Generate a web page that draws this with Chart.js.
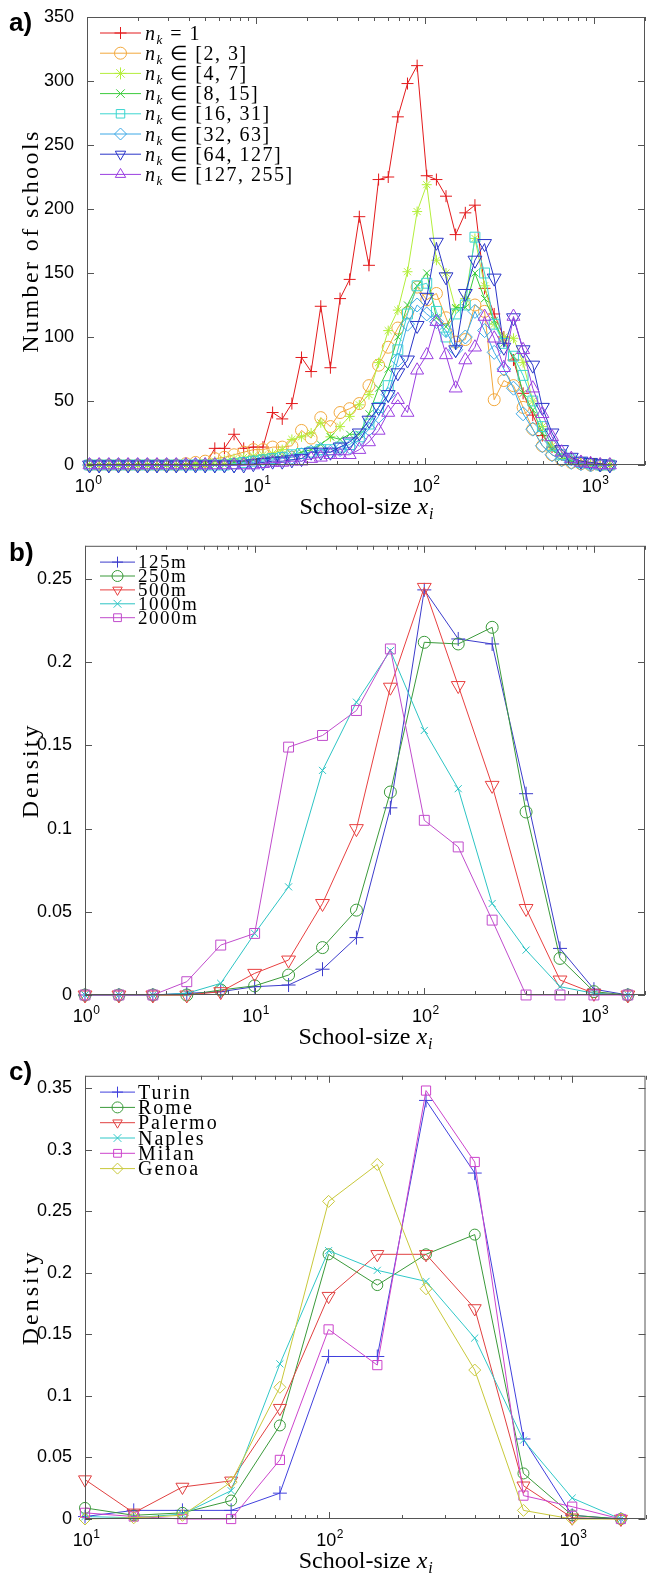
<!DOCTYPE html>
<html>
<head>
<meta charset="utf-8">
<script src="https://cdn.jsdelivr.net/npm/chart.js@4.4.0/dist/chart.umd.min.js"></script>
<style>
  body { margin: 0; background: #fff; width: 654px; height: 1574px; position: relative; overflow: hidden; }
  canvas { position: absolute; left: 0; }
  .tag { position: absolute; left: 9px; font: bold 26px "Liberation Sans", Arial, sans-serif; line-height: 26px; z-index: 2; }
</style>
</head>
<body>
<canvas id="chartA" width="654" height="530" style="top:0"></canvas>
<canvas id="chartB" width="654" height="530" style="top:530px"></canvas>
<canvas id="chartC" width="654" height="514" style="top:1060px"></canvas>
<div class="tag" style="top:9px">a)</div>
<div class="tag" style="top:539px">b)</div>
<div class="tag" style="top:1058px">c)</div>
<script>
// ---- panel a: number of schools vs school size, by n_k
const xA = [1.035, 1.180, 1.346, 1.535, 1.750, 1.995, 2.275, 2.594, 2.958, 3.373, 3.846, 4.385, 5.000, 5.702,
  6.501, 7.413, 8.453, 9.638, 10.99, 12.53, 14.29, 16.29, 18.58, 21.18, 24.15, 27.54, 31.41, 35.81, 40.83,
  46.56, 53.09, 60.53, 69.02, 78.70, 89.74, 102.3, 116.7, 133.0, 151.7, 173.0, 197.2, 224.9, 256.4, 292.4,
  333.4, 380.2, 433.5, 494.3, 563.6, 642.7, 732.8, 835.6, 952.8, 1086, 1239];
const nk1 = [0,0,0,0,0,0,0,0,0,0,0,0,0,
  13,13,24,13,14,14,41,36,48,84,73,124,76,130,145,194,156,223,225,272,298,312,226,223,210,180,197,203,
  138,118,100,82,56,39,23,14,8,5,3,2,1,0];
const nk2_3 = [0,0,0,0,0,0,0,0,0,0,
  1,2,3,5,6,8,10,12,12,14, 14,15,27,21,37,30,41,44,48,62, 78,92,107,119,139,129,134,115,96,98,
  125,120,51,66,62,45,28,15,8,4, 2,1,0,0,0];
const nk4_7 = [0,0,0,0,0,0,0,0,0,0,0,
  1,2,3,4,5,6,7,8,9, 12,20,22,25,33,22,30,38,47,55, 80,105,121,151,198,219,160,150,122,130,
  177,140,110,100,99,80,50,30,15,8, 4,2,1,0,0];
const nk8_15 = [0,0,0,0,0,0,0,0,0,0,0,0,0,0,0,
  2,3,4,5,6, 7,8,10,12,16,22,20,24,24,40, 60,75,100,125,140,150,115,108,123,123,
  150,130,113,95,85,56,43,25,12,6, 3,1,0,0,0];
const nk16_31 = [0,0,0,0,0,0,0,0,0,0,0,0,0,0,0,
  1,2,3,4,5, 6,8,9,10,12,12,14,16,22,32, 45,62,90,118,140,142,120,100,118,125,
  178,150,110,95,85,70,50,30,15,8, 4,2,1,0,0];
const nk32_63 = [0,0,0,0,0,0,0,0,0,0,0,0,0,0,0,0,
  1,2,3,4, 5,6,8,10,12,10,12,14,20,28, 38,55,82,110,125,118,112,105,90,100,
  120,105,88,75,60,40,28,15,8,4, 2,1,0,0,0];
const nk64_127 = [0,0,0,0,0,0,0,0,0,0,0,0,0,0,0,0,0,
  1,2,3, 3,4,5,10,10,10,14,18,25,35, 45,55,72,82,109,131,174,147,90,134,
  160,173,146,92,115,90,78,45,25,12, 6,3,2,1,0];
const nk127_255 = [0,0,0,0,0,0,0,0,0,0,0,0,0,0,0,0,0,0,
  1,2, 2,3,3,5,6,8,8,8,12,18, 27,41,51,41,74,86,112,86,60,82,
  92,116,99,76,116,90,60,40,22,10, 5,2,1,0,0];

// ---- panel b: density by radius
const xB = [1, 1.585, 2.512, 3.981, 6.310, 10, 15.85, 25.12, 39.81, 63.10, 100, 158.5, 251.2, 398.1, 631.0, 1000, 1585];
const r125 = [0,0,0,0.001,0.002,0.005,0.006,0.0155,0.0345,0.1125,0.2435,0.214,0.211,0.121,0.028,0.0035,0];
const r250 = [0,0,0,0,0.003,0.0055,0.012,0.0285,0.051,0.122,0.212,0.211,0.221,0.11,0.022,0.002,0];
const r500 = [0,0,0,0,0.002,0.013,0.021,0.055,0.1,0.185,0.245,0.186,0.126,0.052,0.009,0.001,0];
const r1000 = [0,0,0,0.001,0.007,0.037,0.065,0.135,0.176,0.207,0.159,0.124,0.055,0.027,0.005,0.001,0];
const r2000 = [0,0,0,0.008,0.030,0.037,0.149,0.156,0.171,0.208,0.105,0.089,0.045,0,0,0,0];

// ---- panel c: density by city
const xC = [10, 15.85, 25.12, 39.81, 63.10, 100, 158.5, 251.2, 398.1, 631.0, 1000, 1585];
const turin = [0.002,0.007,0.007,0.007,0.021,0.132,0.132,0.34,0.281,0.065,0.003,0];
const rome = [0.009,0.003,0.005,0.015,0.076,0.215,0.19,0.215,0.231,0.037,0.003,0];
const palermo = [0.032,0.005,0.026,0.031,0.09,0.181,0.215,0.215,0.171,0.027,0.001,0];
const naples = [0.002,0.001,0.004,0.023,0.126,0.218,0.202,0.193,0.147,0.064,0.017,0];
const milan = [0.005,0.002,0,0,0.048,0.154,0.125,0.348,0.29,0.019,0.01,0];
const genoa = [0,0.001,0.003,0.03,0.107,0.258,0.288,0.187,0.121,0.007,0,0];

const xTicks = [1, 10, 100, 1000];
const yTicksA = [0, 50, 100, 150, 200, 250, 300, 350];
const yTicksB = [0, 0.05, 0.1, 0.15, 0.2, 0.25];
const yTicksC = [0, 0.05, 0.1, 0.15, 0.2, 0.25, 0.3, 0.35];

const SANS = '"Liberation Sans", Arial, sans-serif';
const SERIF = '"Liberation Serif", "Times New Roman", serif';

function series(label, xs, ys, color, style, r, rot) {
  return {
    label,
    data: ys.map((v, i) => ({ x: xs[i], y: v })),
    borderColor: color,
    backgroundColor: color,
    borderWidth: 1,
    pointStyle: style,
    pointRotation: rot || 0,
    pointRadius: r,
    pointBorderColor: color,
    pointBackgroundColor: 'rgba(0,0,0,0)',
    pointBorderWidth: 1,
    tension: 0,
    clip: false,
  };
}

// marker for the legend rows (same shapes as the chart points)
function drawMark(ctx, style, rot, r, x, y) {
  ctx.beginPath();
  if (style === 'circle') {
    ctx.arc(x, y, r, 0, Math.PI * 2);
  } else if (style === 'rect') {
    const s = r * Math.SQRT1_2;
    ctx.rect(x - s, y - s, 2 * s, 2 * s);
  } else if (style === 'rectRot') {
    ctx.moveTo(x - r, y); ctx.lineTo(x, y - r); ctx.lineTo(x + r, y); ctx.lineTo(x, y + r); ctx.closePath();
  } else if (style === 'triangle') {
    const a = (rot || 0) * Math.PI / 180;
    for (let k = 0; k < 3; k++) {
      const t = a - Math.PI / 2 + k * 2 * Math.PI / 3;
      const px = x + Math.cos(t) * r, py = y + Math.sin(t) * r;
      k ? ctx.lineTo(px, py) : ctx.moveTo(px, py);
    }
    ctx.closePath();
  } else {
    const arms = style === 'cross' ? [0] : style === 'crossRot' ? [45] : [0, 45];
    arms.forEach(d => {
      for (const base of [0, 90]) {
        const t = (d + base) * Math.PI / 180;
        ctx.moveTo(x - Math.sin(t) * r, y - Math.cos(t) * r);
        ctx.lineTo(x + Math.sin(t) * r, y + Math.cos(t) * r);
      }
    });
  }
  ctx.stroke();
}

const frame = {
  id: 'frame',
  afterDatasetsDraw(chart, args, o) {
    const { ctx, chartArea: a, scales: { x, y } } = chart;
    ctx.save();
    ctx.strokeStyle = '#555';
    ctx.lineWidth = 1;
    ctx.strokeRect(a.left + 0.5, a.top + 0.5, a.right - a.left - 1, a.bottom - a.top - 1);
    ctx.beginPath();
    // log ticks, major and minor, on bottom and top
    for (const d of xTicks) {
      for (let m = 1; m <= 9; m++) {
        const v = d * m;
        if (v < x.min * 0.999 || v > x.max) continue;
        const px = Math.round(x.getPixelForValue(v)) + 0.5;
        const len = m === 1 ? 7 : 4;
        ctx.moveTo(px, a.bottom); ctx.lineTo(px, a.bottom - len);
        ctx.moveTo(px, a.top); ctx.lineTo(px, a.top + len);
      }
    }
    for (const v of o.yTicks) {
      const py = Math.round(y.getPixelForValue(v)) + 0.5;
      ctx.moveTo(a.left, py); ctx.lineTo(a.left + 7, py);
      ctx.moveTo(a.right, py); ctx.lineTo(a.right - 7, py);
    }
    ctx.stroke();
    ctx.restore();
  },
  afterDraw(chart, args, o) {
    const { ctx, chartArea: a, scales: { x } } = chart;
    ctx.save();
    ctx.fillStyle = '#000';
    // x tick labels 10^n
    for (const v of xTicks) {
      if (v < x.min * 0.999 || v > x.max) continue;
      const px = x.getPixelForValue(v);
      const e = String(Math.round(Math.log10(v)));
      ctx.font = '18px ' + SANS;
      const w1 = ctx.measureText('10').width;
      ctx.font = '12px ' + SANS;
      const w2 = ctx.measureText(e).width;
      const sx = px - (w1 + w2) / 2 + 1;
      ctx.font = '18px ' + SANS;
      ctx.fillText('10', sx, a.bottom + 27);
      ctx.font = '12px ' + SANS;
      ctx.fillText(e, sx + w1 + 0.5, a.bottom + 19);
    }
    // x title: School-size x_i
    const t1 = 'School-size ';
    ctx.font = '24px ' + SERIF;
    const w1 = ctx.measureText(t1).width;
    ctx.font = 'italic 24px ' + SERIF;
    const w2 = ctx.measureText('x').width;
    ctx.font = 'italic 16px ' + SERIF;
    const w3 = ctx.measureText('i').width;
    let tx = (a.left + a.right) / 2 - (w1 + w2 + w3) / 2;
    const ty = a.bottom + 49;
    ctx.font = '24px ' + SERIF; ctx.fillText(t1, tx, ty); tx += w1;
    ctx.font = 'italic 24px ' + SERIF; ctx.fillText('x', tx, ty); tx += w2 + 1;
    ctx.font = 'italic 16px ' + SERIF; ctx.fillText('i', tx, ty + 5);
    // y title
    ctx.save();
    ctx.translate(38, (a.top + a.bottom) / 2);
    ctx.rotate(-Math.PI / 2);
    ctx.font = '24px ' + SERIF;
    ctx.letterSpacing = o.yTitleLs + 'px';
    ctx.textAlign = 'center';
    ctx.fillText(o.yTitle, 0, 0);
    ctx.restore();
    // legend
    const L = o.legend;
    chart.data.datasets.forEach((ds, i) => {
      const ly = a.top + L.y0 + i * L.dy;
      ctx.strokeStyle = ds.borderColor;
      ctx.lineWidth = 1;
      ctx.beginPath();
      ctx.moveTo(L.x0, ly); ctx.lineTo(L.x1, ly);
      ctx.stroke();
      drawMark(ctx, ds.pointStyle, ds.pointRotation, L.r, (L.x0 + L.x1) / 2, ly);
      ctx.fillStyle = '#000';
      ctx.letterSpacing = L.ls + 'px';
      let lx = L.tx;
      let txt = ds.label;
      const base = ly + L.size * 0.33;
      if (txt.startsWith('nₖ')) {
        ctx.font = 'italic ' + L.size + 'px ' + SERIF;
        ctx.fillText('n', lx, base); lx += ctx.measureText('n').width;
        ctx.font = 'italic ' + Math.round(L.size * 0.65) + 'px ' + SERIF;
        ctx.fillText('k', lx, base + 4); lx += ctx.measureText('k').width;
        txt = txt.slice(2);
      }
      ctx.font = L.size + 'px ' + SERIF;
      ctx.fillText(txt, lx, base);
    });
    ctx.restore();
  }
};

function makeChart(id, cfg) {
  return new Chart(document.getElementById(id), {
    type: 'line',
    data: { datasets: cfg.datasets },
    options: {
      responsive: false,
      animation: false,
      events: [],
      layout: { padding: { top: cfg.top, right: 1, left: 0, bottom: 0 } },
      plugins: {
        legend: { display: false },
        tooltip: { enabled: false },
        frame: { yTicks: cfg.yTicks, yTitle: cfg.yTitle, yTitleLs: cfg.yTitleLs, legend: cfg.legend },
      },
      scales: {
        x: {
          type: 'logarithmic',
          min: cfg.xMin,
          max: 2000,
          afterBuildTicks: s => { s.ticks = xTicks.map(v => ({ value: v })); },
          afterFit: s => { s.height = cfg.axisH; },
          ticks: { display: false },
          grid: { display: false },
          border: { display: false },
        },
        y: {
          type: 'linear',
          min: 0,
          max: cfg.yMax,
          afterBuildTicks: s => { s.ticks = cfg.yTicks.map(v => ({ value: v })); },
          afterFit: s => { s.width = cfg.yW; },
          ticks: {
            padding: 5,
            color: '#000',
            font: { family: SANS, size: 18 },
            callback: v => String(+Number(v).toFixed(2)),
          },
          grid: { display: false },
          border: { display: false },
        },
      },
    },
    plugins: [frame],
  });
}

const dsA = [
  series('nₖ = 1', xA, nk1, '#e31a1c', 'cross', 6),
  series('nₖ ∈ [2, 3]', xA, nk2_3, '#f2a83c', 'circle', 6),
  series('nₖ ∈ [4, 7]', xA, nk4_7, '#b4ee3c', 'star', 5),
  series('nₖ ∈ [8, 15]', xA, nk8_15, '#3ccc3c', 'crossRot', 5),
  series('nₖ ∈ [16, 31]', xA, nk16_31, '#3cd6d0', 'rect', 7),
  series('nₖ ∈ [32, 63]', xA, nk32_63, '#3ca8e6', 'rectRot', 7),
  series('nₖ ∈ [64, 127]', xA, nk64_127, '#2a35c8', 'triangle', 8, 180),
  series('nₖ ∈ [127, 255]', xA, nk127_255, '#9b3fe0', 'triangle', 7.5),
];
dsA.forEach((d, i) => { d.order = dsA.length - i; });

makeChart('chartA', {
  datasets: dsA, top: 17, axisH: 65, yW: 87, xMin: 1, yMax: 350, yTicks: yTicksA,
  yTitle: 'Number of schools', yTitleLs: 2.4,
  legend: { x0: 100, x1: 141, tx: 145, y0: 16, dy: 20.2, r: 6, size: 20, ls: 1.5 },
});

const dsB = [
  series('125m', xB, r125, '#3c3ccc', 'cross', 7),
  series('250m', xB, r250, '#3a9a3a', 'circle', 6),
  series('500m', xB, r500, '#e84040', 'triangle', 8, 180),
  series('1000m', xB, r1000, '#2cc4c4', 'crossRot', 5),
  series('2000m', xB, r2000, '#c04ccc', 'rect', 7),
];
dsB.forEach((d, i) => { d.order = dsB.length - i; });

makeChart('chartB', {
  datasets: dsB, top: 13, axisH: 65, yW: 85, xMin: 1, yMax: 0.27, yTicks: yTicksB,
  yTitle: 'Density', yTitleLs: 3,
  legend: { x0: 100, x1: 135, tx: 138, y0: 16.3, dy: 13.9, r: 5.5, size: 19, ls: 1.5 },
});

const dsC = [
  series('Turin', xC, turin, '#4040dd', 'cross', 7),
  series('Rome', xC, rome, '#3a9a3a', 'circle', 5.5),
  series('Palermo', xC, palermo, '#e04040', 'triangle', 7.5, 180),
  series('Naples', xC, naples, '#30c8c8', 'crossRot', 5),
  series('Milan', xC, milan, '#cc44cc', 'rect', 6.5),
  series('Genoa', xC, genoa, '#c8c83a', 'rectRot', 6),
];
dsC.forEach((d, i) => { d.order = dsC.length - i; });

makeChart('chartC', {
  datasets: dsC, top: 12, axisH: 55, yW: 85, xMin: 10, yMax: 0.36, yTicks: yTicksC,
  yTitle: 'Density', yTitleLs: 3,
  legend: { x0: 100, x1: 135, tx: 138, y0: 16.3, dy: 15.3, r: 5.5, size: 20, ls: 2 },
});
</script>
</body>
</html>
